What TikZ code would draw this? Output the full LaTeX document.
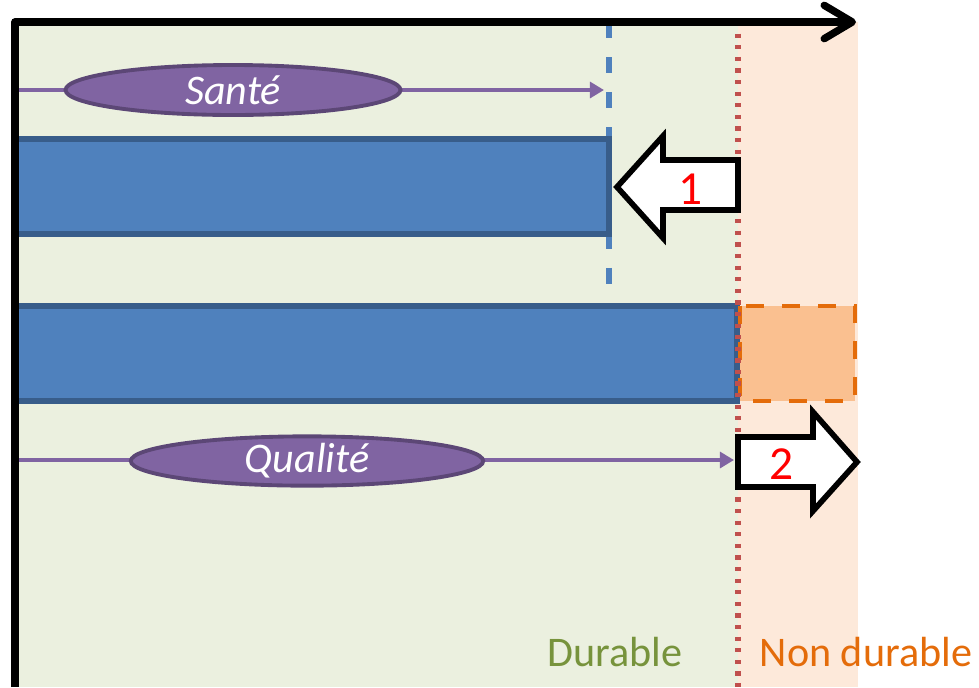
\documentclass[tikz,border=0pt]{standalone}
\usepackage{fontspec}
\setmainfont{Carlito}
\usetikzlibrary{shapes.geometric,arrows.meta}
\definecolor{zonegreen}{HTML}{EBF0DF}
\definecolor{zoneorange}{HTML}{FDE9DA}
\definecolor{barfill}{HTML}{4F81BD}
\definecolor{barline}{HTML}{385D8A}
\definecolor{extfill}{HTML}{FAC090}
\definecolor{extline}{HTML}{E46C0A}
\definecolor{limitred}{HTML}{C0504D}
\definecolor{critfill}{HTML}{8064A2}
\definecolor{critline}{HTML}{5C4776}
\definecolor{labgreen}{HTML}{77933C}

\begin{document}
\begin{tikzpicture}[x=0.02cm, y=0.02cm]
\tikzstyle{every node}+=[inner sep=0pt, font=\fontsize{24}{28}\selectfont]
\tikzstyle{crit}=[ellipse, draw=critline, fill=critfill, line width=2.2pt, text=white, font=\fontsize{24}{28}\selectfont\itshape]
\tikzstyle{critarrow}=[critfill, line width=2.2pt, -{Triangle[length=8pt,width=9pt]}]
\tikzstyle{bigarrow}=[draw=black, fill=white, line width=3.2pt, line join=miter]
\tikzstyle{stepnum}=[text=red, font=\fontsize{27}{30}\selectfont]
\useasboundingbox (0,0) rectangle (979,-687);
% zones
\fill [zonegreen] (15,-22) rectangle (738,-687);
\fill [zoneorange] (738,-22) rectangle (858,-687);
% limits
\coordinate (healthtop) at (609,-22);
\coordinate (healthbot) at (609,-297);
\coordinate (limtop) at (738,-22);
\coordinate (limbot) at (738,-687);
\draw [barfill, line width=3.2pt, dash pattern=on 9pt off 11pt] (healthtop) -- (healthbot);
% bars
\draw [draw=barline, fill=barfill, line width=3.4pt] (15,-139) rectangle (609,-234);
\draw [draw=barline, fill=barfill, line width=3.4pt] (15,-306) rectangle (737,-401);
\draw [draw=extline, fill=extfill, line width=2.8pt, dash pattern=on 10pt off 10.5pt] (740,-306) rectangle (855,-401);
\draw [limitred, line width=3pt, dash pattern=on 2.4pt off 4.2pt] (limtop) -- (limbot);
% arrows 1 and 2
\draw [bigarrow] (738,-160) -- (663,-160) -- (663,-136) -- (617,-187) -- (663,-238) -- (663,-210) -- (738,-210) -- cycle;
\node [stepnum] (one) at (691,-189) {1};
\draw [bigarrow] (738,-437) -- (813,-437) -- (813,-412) -- (857,-462) -- (813,-511) -- (813,-487) -- (738,-487) -- cycle;
\node [stepnum] (two) at (782,-464) {2};
% criteria
\coordinate (santeL) at (15,-90);
\coordinate (santeR) at (604,-90);
\draw [critarrow] (santeL) -- (santeR);
\node [crit, minimum width=6.7cm, minimum height=1cm] (sante) at (233,-90) {Santé};
\coordinate (qualL) at (15,-460);
\coordinate (qualR) at (734,-460);
\draw [critarrow] (qualL) -- (qualR);
\node [crit, minimum width=7.05cm, minimum height=0.95cm] (qual) at (307,-461) {Qualité};
% axes
\coordinate (origin) at (15,-687);
\coordinate (corner) at (15,-22);
\coordinate (xend) at (856,-22);
\draw [black, line width=4.2pt, line join=round, -{Straight Barb[round,length=16pt,width=19pt]}] (origin) -- (corner) -- (xend);
% labels
\node [anchor=base, text=labgreen] (dur) at (615,-666) {Durable};
\node [anchor=base, text=extline] (nondur) at (866,-666) {Non durable};
\end{tikzpicture}
\end{document}
